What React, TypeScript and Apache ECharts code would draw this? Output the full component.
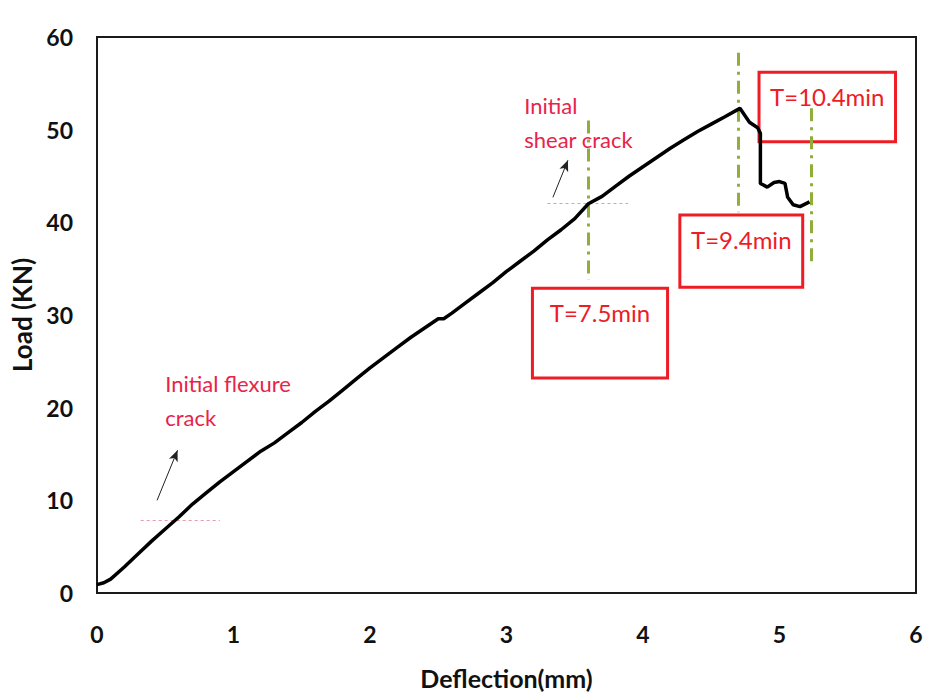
import React, { useEffect, useRef } from "react";
import * as echarts from "echarts";

// Load–deflection curve (x: deflection mm, y: load kN)
const deflection = [
  0, 0.05, 0.1, 0.2, 0.3, 0.4, 0.5, 0.6, 0.7, 0.8, 0.9, 1.0, 1.1, 1.2, 1.3, 1.4, 1.5, 1.6, 1.7, 1.8,
  1.9, 2.0, 2.1, 2.2, 2.3, 2.4, 2.5, 2.54, 2.6, 2.7, 2.8, 2.9, 3.0, 3.1, 3.2, 3.3, 3.4, 3.5, 3.6,
  3.7, 3.8, 3.9, 4.0, 4.1, 4.2, 4.3, 4.4, 4.5, 4.6, 4.71, 4.78, 4.84, 4.86, 4.86, 4.91, 4.96, 5.0,
  5.04, 5.06, 5.1, 5.15, 5.22,
];
const load = [
  0.9, 1.1, 1.5, 2.8, 4.2, 5.6, 6.9, 8.2, 9.6, 10.8, 12.0, 13.1, 14.2, 15.3, 16.2, 17.3, 18.4, 19.6,
  20.7, 21.9, 23.1, 24.3, 25.4, 26.5, 27.6, 28.6, 29.6, 29.6, 30.2, 31.3, 32.4, 33.5, 34.7, 35.8,
  36.9, 38.1, 39.2, 40.4, 42.0, 42.8, 43.9, 45.0, 46.0, 47.0, 48.0, 48.9, 49.8, 50.6, 51.4, 52.3,
  50.8, 50.2, 49.6, 44.2, 43.8, 44.3, 44.4, 44.2, 42.7, 41.9, 41.7, 42.2,
];

const xTicks = [0, 1, 2, 3, 4, 5, 6];
const yTicks = [0, 10, 20, 30, 40, 50, 60];

// Time markers: [x, yTop, yBottom]
const timeLineX = [3.6, 4.7, 5.23];
const timeLineTop = [51.0, 58.3, 52.3];
const timeLineBottom = [33.8, 41.1, 35.2];

// Time boxes: label, x0, x1, yTop, yBottom
const boxLabels = ["T=7.5min", "T=9.4min", "T=10.4min"];
const boxX0 = [3.19, 4.27, 4.85];
const boxX1 = [4.18, 5.17, 5.85];
const boxYTop = [32.9, 40.8, 56.2];
const boxYBottom = [23.2, 33.0, 48.7];

// Crack annotations
const crackTexts = ["Initial flexure\ncrack", "Initial\nshear crack"];
const crackTextX = [0.5, 3.13];
const crackTextY = [24.45, 54.45];
const arrowFrom = [[0.44, 10.0], [3.34, 42.7]];
const arrowTo = [[0.59, 15.4], [3.45, 46.7]];
const crackLevelY = [7.9, 42.1];
const crackLevelX0 = [0.32, 3.3];
const crackLevelX1 = [0.9, 3.89];

export default function App() {
  const ref = useRef<HTMLDivElement>(null);
  useEffect(() => {
    document.body.style.margin = "0";
    const chart = echarts.init(ref.current!, null, { renderer: "svg" });
    const font = "Lato, 'Open Sans', sans-serif";
    const red = "#ee1c25";
    const green = "#8fae3a";
    const pink = "#e8234a";

    const greenLines = timeLineX.map((x, i) => [
      { coord: [x, timeLineTop[i]] },
      { coord: [x, timeLineBottom[i]] },
    ]);
    const dotted = crackLevelY.map((y, i) => [
      { coord: [crackLevelX0[i], y] },
      { coord: [crackLevelX1[i], y] },
    ]);
    const arrows = arrowFrom.map((f, i) => [{ coord: f }, { coord: arrowTo[i] }]);
    const boxes = boxLabels.map((l, i) => [
      { name: l, coord: [boxX0[i], boxYTop[i]] },
      { coord: [boxX1[i], boxYBottom[i]] },
    ]);

    chart.setOption({
      animation: false,
      backgroundColor: "#fff",
      grid: {
        left: 97,
        top: 37,
        right: 10,
        bottom: 104,
        show: true,
        borderColor: "#1a1a1a",
        borderWidth: 2,
      },
      xAxis: {
        type: "value",
        min: 0,
        max: 6,
        interval: 1,
        name: "Deflection(mm)",
        nameLocation: "middle",
        nameGap: 72,
        nameTextStyle: { fontFamily: font, fontWeight: "bold", fontSize: 25, color: "#111" },
        axisLine: { show: true, lineStyle: { color: "#1a1a1a", width: 2 } },
        axisTick: { show: false },
        splitLine: { show: false },
        axisLabel: {
          margin: 29,
          fontFamily: font,
          fontWeight: "bold",
          fontSize: 23,
          color: "#111",
          formatter: (v: number) => (xTicks.includes(v) ? String(v) : ""),
        },
      },
      yAxis: {
        type: "value",
        min: 0,
        max: 60,
        interval: 10,
        name: "Load (KN)",
        nameLocation: "middle",
        nameGap: 62,
        nameRotate: 90,
        nameTextStyle: { fontFamily: font, fontWeight: "bold", fontSize: 26, color: "#111" },
        axisLine: { show: true, lineStyle: { color: "#1a1a1a", width: 2 } },
        axisTick: { show: false },
        splitLine: { show: false },
        axisLabel: {
          margin: 24,
          fontFamily: font,
          fontWeight: "bold",
          fontSize: 23,
          color: "#111",
          formatter: (v: number) => (yTicks.includes(v) ? String(v) : ""),
        },
      },
      series: [
        {
          type: "line",
          data: deflection.map((d, i) => [d, load[i]]),
          showSymbol: false,
          symbol: "none",
          lineStyle: { color: "#000", width: 3.5 },
          z: 5,
          markArea: {
            silent: true,
            itemStyle: { color: "rgba(255,255,255,0)", borderColor: red, borderWidth: 3 },
            label: {
              show: true,
              position: "insideTop",
              distance: 14,
              color: red,
              fontFamily: font,
              fontSize: 24,
            },
            data: boxes,
          },
        },
        {
          type: "line",
          data: [],
          z: 6,
          markLine: {
            silent: true,
            symbol: ["none", "none"],
            label: { show: false },
            lineStyle: { color: green, width: 3, type: [13, 6, 3, 6], opacity: 1 },
            data: greenLines,
          },
        },
        {
          type: "line",
          data: [],
          z: 4,
          markLine: {
            silent: true,
            symbol: ["none", "none"],
            label: { show: false },
            lineStyle: { color: "#e79aa8", width: 1.2, type: [3, 3] },
            data: dotted,
          },
        },
        {
          type: "line",
          data: [],
          z: 6,
          markLine: {
            silent: true,
            symbol: ["none", "arrow"],
            symbolSize: [7, 11],
            label: { show: false },
            lineStyle: { color: "#222", width: 1, type: "solid" },
            data: arrows,
          },
        },
      ],
    });

    const texts = crackTexts.map((t, i) => {
      const p = chart.convertToPixel({ gridIndex: 0 }, [crackTextX[i], crackTextY[i]]) as number[];
      return {
        type: "text",
        x: p[0],
        y: p[1],
        silent: true,
        style: {
          text: t,
          fill: pink,
          font: `22px ${font}`,
          lineHeight: 34,
          textAlign: "left",
          textVerticalAlign: "top",
        },
      };
    });
    chart.setOption({ graphic: texts });

    return () => chart.dispose();
  }, []);
  return <div ref={ref} style={{ width: 926, height: 697 }} />;
}
